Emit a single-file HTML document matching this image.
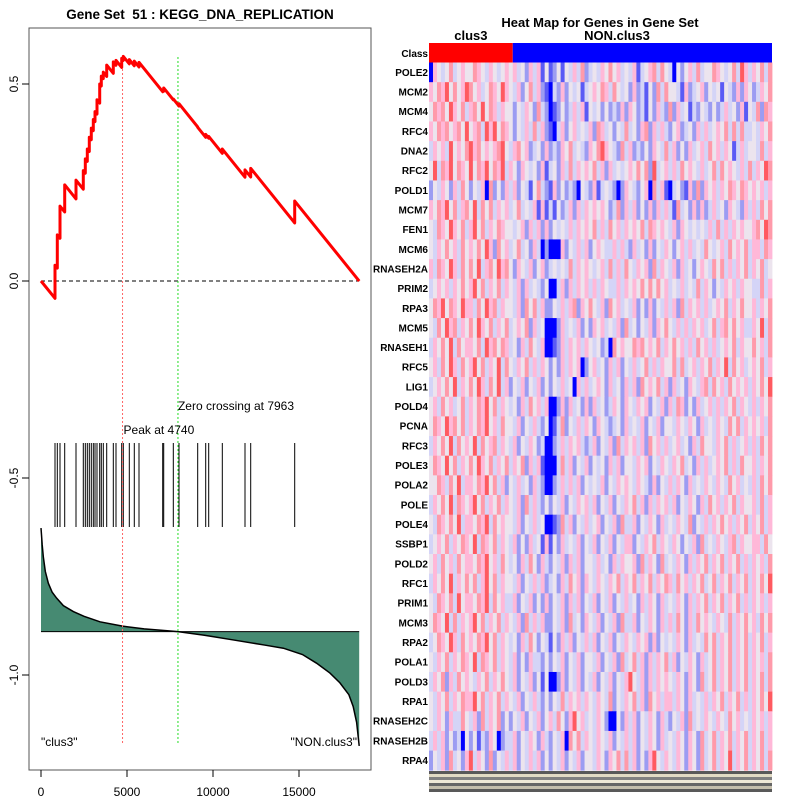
<!DOCTYPE html>
<html><head><meta charset="utf-8"><style>
html,body{margin:0;padding:0;background:#fff}
svg{display:block;font-family:"Liberation Sans",sans-serif}
text{white-space:pre}
</style></head><body>
<svg id="chart" width="800" height="800" viewBox="0 0 800 800" xmlns="http://www.w3.org/2000/svg">
<g id="left"></g>
<g id="right"></g>
</svg>
<script>
// ===== Enrichment plot data =====
const N = 18500;
const hitRanks = [814,948,1105,1378,2035,2459,2576,2692,2808,2924,3041,3140,3256,3413,3506,3622,3820,4204,4360,4692,4785,5134,5424,5698,7076,7134,7692,8023,9110,9576,9750,10541,11860,12192,14750];
const esAfterHit = [0.04,0.117,0.19,0.244,0.256,0.28,0.31,0.335,0.365,0.388,0.41,0.43,0.46,0.50,0.52,0.53,0.548,0.556,0.56,0.565,0.57,0.562,0.558,0.555,0.485,0.49,0.462,0.45,0.39,0.372,0.367,0.335,0.282,0.286,0.203];
const metricRanks = [0,30,70,135,250,426,650,910,1300,1880,2500,3430,4740,6000,7963,9500,11180,13000,14090,15200,16020,16800,17380,17900,18150,18350,18450,18500];
const metricVals = [-0.627,-0.645,-0.67,-0.70,-0.737,-0.767,-0.79,-0.805,-0.824,-0.839,-0.851,-0.865,-0.876,-0.883,-0.890,-0.899,-0.911,-0.924,-0.932,-0.948,-0.97,-0.995,-1.02,-1.05,-1.08,-1.12,-1.16,-1.18];
const metricBase = -0.890;
const peakRank = 4740;
const zeroRank = 7963;
const xTicks = [0,5000,10000,15000];
const yTicks = [0.0,0.5,-0.5,-1.0];
const yTickLabels = ["0.0","0.5","-0.5","-1.0"];

// ===== Heatmap data =====
const genes = ["POLE2","MCM2","MCM4","RFC4","DNA2","RFC2","POLD1","MCM7","FEN1","MCM6","RNASEH2A","PRIM2","RPA3","MCM5","RNASEH1","RFC5","LIG1","POLD4","PCNA","RFC3","POLE3","POLA2","POLE","POLE4","SSBP1","POLD2","RFC1","PRIM1","MCM3","RPA2","POLA1","POLD3","RPA1","RNASEH2C","RNASEH2B","RPA4"];
const classes = ["clus3","NON.clus3"];
const classCounts = [21,65];
const heatRows = [
"0654574565 5765465456 5645364625 2352546473 4546575645 4624567475 4053564745 5765457486 465747",
"6576857568 7564576586 5463574632 1436354524 5657647545 3634253747 5542634563 5452543636 534657",
"5767586574 6758576465 5354653743 1235346462 5453534363 6534253643 7364524354 3534645362 547376",
"6576756758 5674868576 5354647463 2146356454 6376453547 4536736464 3563453646 4565747474 454657",
"4656485657 8675656785 4675634536 3436574543 6578654374 6343536547 4635364564 7564652464 554746",
"5847685765 8576857684 6536545362 4536474656 5746364545 6575738456 4647565464 5747565464 746587",
"3546536475 3546073536 4635425743 2635343154 3624543136 5435617462 1453263736 5646576576 565646",
"6576857467 5847574656 4574546262 4253463646 5656534736 4635363646 4274536363 4645365436 464757",
"5476586574 6857465765 5456364636 3545464656 5746475646 5657476565 4636545454 6474646565 567587",
"5465756475 6575863756 4574536403 0016354646 3565446464 3645363546 5356464547 5456475657 466476",
"6476586475 7584675867 5365463563 4545474656 5456474647 5465637465 4636453565 4757464657 465745",
"4565646575 6857465746 5463645435 1046364656 4646544646 5657575756 4546454746 5354656465 544746",
"5768576586 6475867465 5463757463 3546467365 7546375645 4635363546 4637465646 4565746575 564657",
"5475867465 7586574657 4565736450 0136454635 3656454637 4535463657 5464646564 5746757564 465847",
"4657584756 6574867576 4536475460 0236465646 5453407565 5767565746 5756464756 4645657465 575647",
"5647586475 6857465847 5465746465 3536465603 5645364635 4645746465 5747456465 7465847564 565746",
"4565758465 7586475846 3546354635 3546451646 4565364536 4637565746 3645365467 4756475656 465758",
"5647564574 6576857465 4536475646 1036364536 3645346536 5465635463 6476353645 6464657465 464657",
"5765867574 6576856475 5463546435 1247354646 5365434536 4546354635 5465465364 5465475746 565647",
"4657584756 5847567465 4635465341 1346465643 4635463746 5646375646 4564536475 5465746456 464757",
"5765857465 7586574657 4657364620 1147463546 3545364635 5465635465 4657453646 4565746475 564657",
"5576475846 6576857463 5464536430 1346464635 4546354656 5465436354 6465364546 5465475645 464757",
"4657584765 6857465746 5463746435 3546354656 4635463546 5746364656 4635465364 7564657465 564746",
"5476575846 6576847565 5463546450 0237463546 4563546374 4635465364 5465473546 4657564657 465746",
"4565746576 5847657465 4635364526 2536454635 4635463546 6354657465 4653546374 5465467465 566475",
"5647564756 6576856475 4536475364 3546364635 5464536465 5637465374 5465364657 4657465746 465647",
"4657584657 5746857465 5463546463 4536475636 5465465746 5746574657 6475646574 5746574657 465758",
"5476574856 6576847564 4635463536 3546364635 4635463546 4536465364 5465364657 4657465746 465646",
"5765847465 6857465746 5463746463 3546374536 5463546374 4635465364 6475364756 5465474657 564757",
"4576586475 6576857465 4536475354 2536463546 4635463546 5465636354 5465364547 5746574657 465746",
"5465746576 5847657465 4635364435 3546354635 5463546374 5746364657 4635465364 5746574657 465647",
"4657364756 5465746575 4635463525 1036354635 4635463546 8546364656 5465365374 5746574657 465747",
"5465746576 6857465746 5463546435 3547465646 5465473546 5746375646 6465364546 4657465746 465758",
"5465364475 4637465735 3546354635 6475368564 5465310536 4635465364 3546374546 5465475645 465646",
"4646353415 3524365134 4635465364 3546075746 5465463546 4635465364 5465365374 5746574657 465746",
"3546374536 8465373546 4635464635 3546354635 5465365747 4635368546 5465365374 5746584657 465747"
].map(s => s.replace(/ /g,''));
</script>
<script>
const NS = "http://www.w3.org/2000/svg";
function mk(parent, tag, attrs, text){
  const e = document.createElementNS(NS, tag);
  for (const k in attrs) e.setAttribute(k, attrs[k]);
  if (text !== undefined) e.textContent = text;
  parent.appendChild(e);
  return e;
}
const L = document.getElementById('left');
const R = document.getElementById('right');

const X0 = 41, XS = 258/15000;
const xPos = r => X0 + r*XS;
const Y0 = 281, YS = 394;
const yPos = v => Y0 - v*YS;

let t = mk(L,'text',{x:200,y:19,'text-anchor':'middle','font-size':13.5,'font-weight':'bold'},'Gene Set  51 : KEGG_DNA_REPLICATION');



let fr = mk(L,'rect',{x:29,y:28,width:342,height:742,fill:'none',stroke:'#555','stroke-width':1});



xTicks.forEach(v=>{
  const x = xPos(v);
  mk(L,'line',{x1:x,x2:x,y1:770,y2:777,stroke:'#000'});
  const tt = mk(L,'text',{x:x,y:796,'text-anchor':'middle','font-size':12},String(v));
  
  
});
yTicks.forEach((v,i)=>{
  const y = yPos(v);
  mk(L,'line',{x1:29,x2:22,y1:y,y2:y,stroke:'#000'});
  const tt = mk(L,'text',{x:0,y:0,'text-anchor':'middle','font-size':12,transform:`translate(18,${y}) rotate(-90)`},yTickLabels[i]);
  
  
});

let pts = metricRanks.map((r,i)=>`${xPos(r)},${yPos(metricVals[i])}`);
const baseY = yPos(metricBase);
let area = mk(L,'polygon',{points:`${xPos(metricRanks[0])},${baseY} `+pts.join(' ')+` ${xPos(N)},${baseY}`,fill:'#468a72',stroke:'none'});


let curve = mk(L,'polyline',{points:pts.join(' '),fill:'none',stroke:'#000','stroke-width':1.5});


mk(L,'line',{x1:xPos(0),x2:xPos(N),y1:baseY,y2:baseY,stroke:'#000','stroke-width':1});

hitRanks.forEach(r=>{
  const h = mk(L,'line',{x1:xPos(r),x2:xPos(r),y1:443,y2:527,stroke:'#000','stroke-width':1});
  
  
});

let zl = mk(L,'line',{x1:xPos(0),x2:xPos(N),y1:yPos(0),y2:yPos(0),stroke:'#000','stroke-dasharray':'4,3'});



let pl = mk(L,'line',{x1:xPos(peakRank),x2:xPos(peakRank),y1:57,y2:745,stroke:'#ff6666','stroke-dasharray':'2,2'});


let zc = mk(L,'line',{x1:xPos(zeroRank),x2:xPos(zeroRank),y1:57,y2:745,stroke:'#22dd22','stroke-dasharray':'2,2'});



const slope = 1/(N - hitRanks.length);
let d = `M${xPos(0)},${yPos(0)}`;
let prevR = 0, prevV = 0;
hitRanks.forEach((r,i)=>{
  const before = prevV - slope*(r-prevR);
  d += ` L${xPos(r)},${yPos(before)} L${xPos(r)},${yPos(esAfterHit[i])}`;
  prevR = r; prevV = esAfterHit[i];
});
d += ` L${xPos(N)},${yPos(prevV - slope*(N-prevR))}`;
let es = mk(L,'path',{d:d,fill:'none',stroke:'#ff0000','stroke-width':3,'stroke-linejoin':'round'});



let a1 = mk(L,'text',{x:xPos(zeroRank),y:410,'font-size':12},'Zero crossing at '+zeroRank);


let a2 = mk(L,'text',{x:xPos(peakRank)+1,y:434,'font-size':12},'Peak at '+peakRank);


let c1 = mk(L,'text',{x:41,y:746,'font-size':12},'"clus3"');


let c2 = mk(L,'text',{x:357,y:746,'font-size':12,'text-anchor':'end'},'"NON.clus3"');



// ===== heatmap =====
const HX0 = 429, HX1 = 772, HY0 = 62.5, RH = 19.66;
const ncols = classCounts[0]+classCounts[1];
const cw = (HX1-HX0)/ncols;
const palette = ['#0000ff','#5a5af5','#9c9cf2','#d4d4f7','#ece4ee','#ffb8d8','#ff9aaa','#ff5a60','#ff0000'];

let ht = mk(R,'text',{x:600,y:27,'text-anchor':'middle','font-size':13,'font-weight':'bold'},'Heat Map for Genes in Gene Set');



let cx = HX0;
classes.forEach((c,i)=>{
  const w = classCounts[i]*cw;
  const r = mk(R,'rect',{x:cx,y:43,width:w,height:19.5,fill:i===0?'#ff0000':'#0000ff'});
  
  
  const lab = mk(R,'text',{x:i===0?cx+w/2:617,y:40,'text-anchor':'middle','font-size':13,'font-weight':'bold'},c);
  
  
  cx += w;
});
let cl = mk(R,'text',{x:428,y:57,'text-anchor':'end','font-size':10,'font-weight':'bold'},'Class');



genes.forEach((g,ri)=>{
  const y = HY0 + ri*RH;
  const row = heatRows[ri] || '';
  for (let ci=0; ci<ncols; ci++){
    let lv = ci < row.length ? +row[ci] : 4;
    lv = Math.max(0, lv-1);
    const cell = mk(R,'rect',{x:HX0+ci*cw,y:y,width:cw+0.4,height:RH+0.4,fill:palette[lv]});
    
    
  }
  const lab = mk(R,'text',{x:428,y:y+RH/2+3.5,'text-anchor':'end','font-size':10,'font-weight':'bold'},g);
  
  
});

const stripCols = ['#222','#d8cfb0','#555','#e8e0c8','#333','#b0a890'];
for (let k=0;k<7;k++){
  const s = mk(R,'rect',{x:HX0,y:771+k*3,width:HX1-HX0,height:3,fill:stripCols[k%stripCols.length],opacity:0.75});
  
  
}
</script>
</body></html>
